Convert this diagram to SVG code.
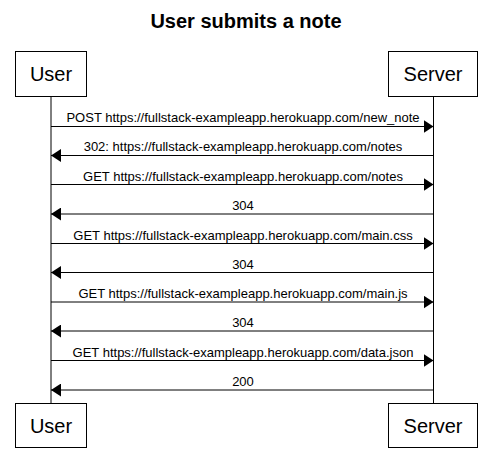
<svg xmlns="http://www.w3.org/2000/svg" width="492" height="472" viewBox="0 0 492 472">
<style>
  .title { font-family: "Liberation Sans", Arial, sans-serif; font-size: 20px; font-weight: bold; fill: #000; text-anchor: middle; }
  .actor rect { fill: #fff; stroke: #000; stroke-width: 1; }
  .actor text { font-family: "Liberation Sans", Arial, sans-serif; font-size: 20px; fill: #000; text-anchor: middle; }
  .lifeline { stroke: #000; stroke-width: 1; }
  .msg line { stroke: #000; stroke-width: 1; marker-end: url(#arrow); }
  .msg text { font-family: "Liberation Sans", Arial, sans-serif; font-size: 13px; fill: #000; text-anchor: middle; }
</style>
<defs>
  <marker id="arrow" markerUnits="userSpaceOnUse" markerWidth="10" markerHeight="13" refX="10" refY="6.5" orient="auto">
    <path d="M0,0 L10,6.5 L0,13 z" fill="#000"/>
  </marker>
</defs>
<rect width="492" height="472" fill="#fff"/>
<text class="title" x="246" y="28">User submits a note</text>

<g id="lifelines">
  <line class="lifeline" x1="51" y1="97" x2="51" y2="403"/>
  <line class="lifeline" x1="433.5" y1="97" x2="433.5" y2="403"/>
</g>

<g id="user-top" class="actor">
  <rect x="15.5" y="51.5" width="71" height="45"/>
  <text x="51" y="81">User</text>
</g>
<g id="server-top" class="actor">
  <rect x="388.5" y="51.5" width="89" height="45"/>
  <text x="433" y="81">Server</text>
</g>
<g id="user-bottom" class="actor">
  <rect x="15.5" y="403.5" width="71" height="44"/>
  <text x="51" y="433">User</text>
</g>
<g id="server-bottom" class="actor">
  <rect x="388.5" y="403.5" width="89" height="44"/>
  <text x="433" y="433">Server</text>
</g>

<g id="connectors">
  <g class="msg">
    <line x1="51" y1="126.5" x2="433.5" y2="126.5"/>
    <text x="243" y="122">POST https://fullstack-exampleapp.herokuapp.com/new_note</text>
  </g>
  <g class="msg">
    <line x1="433.5" y1="155.5" x2="51" y2="155.5"/>
    <text x="243" y="151">302: https://fullstack-exampleapp.herokuapp.com/notes</text>
  </g>
  <g class="msg">
    <line x1="51" y1="184.5" x2="433.5" y2="184.5"/>
    <text x="243" y="180.5">GET https://fullstack-exampleapp.herokuapp.com/notes</text>
  </g>
  <g class="msg">
    <line x1="433.5" y1="214" x2="51" y2="214"/>
    <text x="243" y="210">304</text>
  </g>
  <g class="msg">
    <line x1="51" y1="243.5" x2="433.5" y2="243.5"/>
    <text x="243" y="239.5">GET https://fullstack-exampleapp.herokuapp.com/main.css</text>
  </g>
  <g class="msg">
    <line x1="433.5" y1="272.5" x2="51" y2="272.5"/>
    <text x="243" y="268.5">304</text>
  </g>
  <g class="msg">
    <line x1="51" y1="302" x2="433.5" y2="302"/>
    <text x="243" y="298">GET https://fullstack-exampleapp.herokuapp.com/main.js</text>
  </g>
  <g class="msg">
    <line x1="433.5" y1="331" x2="51" y2="331"/>
    <text x="243" y="327">304</text>
  </g>
  <g class="msg">
    <line x1="51" y1="360.5" x2="433.5" y2="360.5"/>
    <text x="243" y="356.5">GET https://fullstack-exampleapp.herokuapp.com/data.json</text>
  </g>
  <g class="msg">
    <line x1="433.5" y1="390" x2="51" y2="390"/>
    <text x="243" y="386">200</text>
  </g>
</g>
</svg>
